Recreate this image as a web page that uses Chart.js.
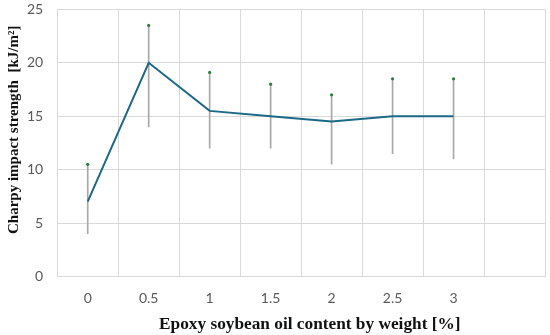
<!DOCTYPE html>
<html><head><meta charset="utf-8">
<script src="https://cdn.jsdelivr.net/npm/chart.js@4/dist/chart.umd.min.js"></script>
<style>html,body{margin:0;padding:0;background:#fff}#wrap{width:550px;height:335px}</style>
</head><body><div id="wrap"><canvas id="c" width="550" height="335"></canvas></div>
<script>
const categories = ['0','0.5','1','1.5','2','2.5','3',''];
const meanValues = [7, 20, 15.5, 15, 14.5, 15, 15, null];
const upperValues = [10.5, 23.5, 19.1, 18, 17, 18.5, 18.5, null];
const lowerValues = [4, 14, 12, 12, 10.5, 11.5, 11, null];
const yTicks = [0, 5, 10, 15, 20, 25];

const errorRanges = lowerValues.map((l, i) => (l === null ? null : [l, upperValues[i]]));
const serif = "'Liberation Serif', 'DejaVu Serif', serif";
const sans = "Lato, 'Liberation Sans', sans-serif";

new Chart(document.getElementById('c'), {
  type: 'bar',
  data: {
    labels: categories,
    datasets: [
      { type: 'line', data: meanValues, borderColor: '#1c6985', borderWidth: 2, pointRadius: 0, tension: 0, order: 0, spanGaps: false },
      { type: 'line', data: upperValues, showLine: false, pointRadius: 1.6, pointBackgroundColor: '#2e7d3a', pointBorderWidth: 0, order: 1 },
      { type: 'bar', data: errorRanges, backgroundColor: '#a8a8a8', barThickness: 1, order: 2 }
    ]
  },
  options: {
    responsive: false, animation: false,
    layout: { padding: { left: 3, right: 5, top: 1, bottom: 0 } },
    plugins: { legend: { display: false }, tooltip: { enabled: false } },
    scales: {
      x: {
        offset: true,
        grid: { offset: true, color: '#d9d9d9', lineWidth: 1, drawTicks: true, tickLength: 13, tickColor: 'rgba(0,0,0,0)' },
        border: { color: '#d9d9d9' },
        ticks: { color: '#595959', font: { family: sans, size: 14 }, padding: 1, maxRotation: 0 },
        title: { display: true, text: '    Epoxy soybean oil content by weight [%]', color: '#111', font: { family: serif, size: 17.3, weight: 'bold' }, padding: { top: 6, bottom: 0 } }
      },
      y: {
        min: 0, max: 25,
        afterBuildTicks: (s) => { s.ticks = yTicks.map(v => ({ value: v })); },
        grid: { color: '#d9d9d9', lineWidth: 1, drawTicks: true, tickLength: 13, tickColor: 'rgba(0,0,0,0)' },
        border: { color: '#d9d9d9' },
        ticks: { color: '#595959', font: { family: sans, size: 14 }, padding: 1 },
        title: { display: true, text: '       Charpy impact strength  [kJ/m²]', color: '#111', font: { family: serif, size: 15, weight: 'bold' }, padding: { top: 2, bottom: 3 } }
      }
    }
  }
});
</script></body></html>
